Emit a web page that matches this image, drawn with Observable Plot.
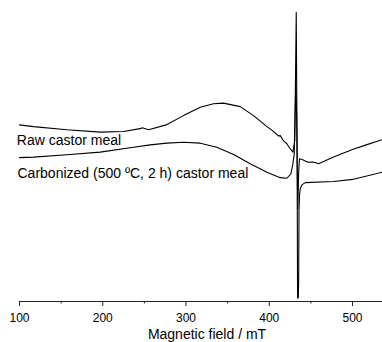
<!DOCTYPE html>
<html>
<head>
<meta charset="utf-8">
<script src="https://cdn.jsdelivr.net/npm/d3@7"></script>
<script src="https://cdn.jsdelivr.net/npm/@observablehq/plot@0.6"></script>
<style>
  html, body { margin: 0; padding: 0; background: #fff; }
  #chart { width: 382px; height: 342px; overflow: hidden; }
</style>
</head>
<body>
<div id="chart"></div>
<script>
// Magnetic field (mT) and EPR intensity (arbitrary units)
const rawField = [100, 116.8, 156.9, 196.9, 224.9, 245, 247.4, 255, 277.1, 297, 317.1, 333, 345, 365.1, 381.1, 397.2, 403.5, 409.2, 410.8, 413.2, 416.8, 421.2, 424, 428.4, 430.6, 431.8, 433, 434.2, 435.4, 436.3, 440.8, 443.2, 447.1, 451.6, 455.2, 459.2, 477.2, 500, 517.3, 535.7];
const rawSignal = [10.9, 10.3, 9.2, 8.4, 8.6, 9.6, 9.9, 9.2, 11.0, 14.1, 17.0, 18.2, 18.4, 17.2, 14.1, 10.3, 9.0, 7.6, 7.1, 7.2, 5.5, 4.4, 3.1, 1.5, 5.5, 26.2, 12.4, -17.9, -4.8, -0.8, -1.2, -1.6, -2.0, -1.9, -2.1, -2.5, -0.2, 2.4, 4.1, 5.8];

const carbField = [100, 116.8, 156.9, 196.9, 236.9, 257, 277.1, 297, 317.1, 337.1, 357.1, 377.1, 397.2, 413.2, 421.2, 426, 428.4, 430, 431.2, 432.4, 433.4, 434, 434.8, 435.3, 435.7, 436.4, 437.2, 439.5, 443.2, 477.2, 500, 535.7];
const carbSignal = [-0.4, -0.2, 0.6, 1.5, 3.2, 4.0, 4.6, 4.9, 4.6, 3.2, 0.7, -2.5, -5.4, -7.3, -7.5, -6.0, -2.5, 0.9, 19.3, 49.7, 2.1, -48.8, -48.8, -42.8, -18.6, -13.1, -11.0, -9.7, -9.0, -8.6, -7.9, -5.4];

const seriesNames = ["Raw castor meal", "Carbonized (500 ºC, 2 h) castor meal"];
const labelField = [96.8, 97.6];
const labelSignal = [5.5, -6.0];

const majorTicks = [100, 200, 300, 400, 500];
const minorTicks = [150, 250, 350, 450];
const xTitle = "Magnetic field / mT";

const raw = rawField.map((f, i) => ({field: f, signal: rawSignal[i]}));
const carb = carbField.map((f, i) => ({field: f, signal: carbSignal[i]}));
const labels = seriesNames.map((n, i) => ({name: n, field: labelField[i], signal: labelSignal[i]}));

const font = "'Liberation Sans', Arial, Helvetica, sans-serif";

const chart = Plot.plot({
  width: 382,
  height: 352,
  marginTop: 11,
  marginBottom: 51,
  marginLeft: 19,
  marginRight: 0,
  style: {fontFamily: font, background: "#fff", color: "#000"},
  x: {domain: [100, 536]},
  y: {domain: [-50, 50], axis: null},
  marks: [
    Plot.frame({anchor: "bottom", stroke: "#222", strokeWidth: 1}),
    Plot.axisX(minorTicks, {tickSize: 2.5, text: null, stroke: "#222", label: null}),
    Plot.axisX(majorTicks, {tickSize: 5, tickPadding: 7, fontSize: 12, stroke: "#222", fill: "#000", label: null}),
    Plot.text([xTitle], {frameAnchor: "bottom", lineAnchor: "middle", dy: 33, dx: 6, fontSize: 14, fill: "#000"}),
    Plot.line(raw, {x: "field", y: "signal", stroke: "#000", strokeWidth: 1.1}),
    Plot.line(carb, {x: "field", y: "signal", stroke: "#000", strokeWidth: 1.1}),
    Plot.text(labels, {x: "field", y: "signal", text: "name", textAnchor: "start", lineAnchor: "middle", fontSize: 14, fill: "#000"})
  ]
});
document.getElementById("chart").appendChild(chart);
</script>
</body>
</html>
